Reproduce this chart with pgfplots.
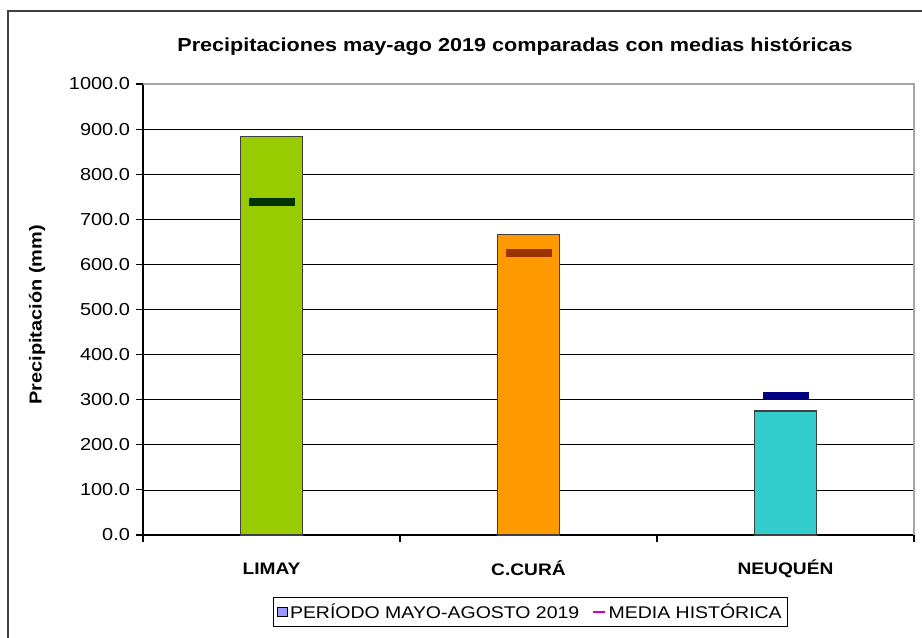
\documentclass[border=0pt]{standalone}
\usepackage{pgfplots}
\pgfplotsset{compat=1.18}
\usepackage{fontspec}
\setmainfont{Liberation Sans}[FakeStretch=1.15]
\definecolor{limay}{HTML}{99CC00}
\definecolor{limayd}{HTML}{003300}
\definecolor{cura}{HTML}{FF9900}
\definecolor{curad}{HTML}{993300}
\definecolor{neuq}{HTML}{33CCCC}
\definecolor{neuqd}{HTML}{000080}
\definecolor{legblue}{HTML}{9999FF}
\definecolor{legmag}{HTML}{CC00CC}
\definecolor{frame}{HTML}{404040}
\begin{document}
\begin{tikzpicture}
\path[use as bounding box] (0,0) rectangle (691.5pt,477.75pt);
\draw[frame, line width=1.5pt] (6pt,-10pt) rectangle (720pt,469.5pt);
\node[font=\fontsize{14.1}{16}\selectfont\bfseries] at (386.25pt,442.5pt) {Precipitaciones may-ago 2019 comparadas con medias históricas};
\begin{axis}[
  at={(107.25pt,76.5pt)}, anchor=south west,
  width=578.25pt, height=338.25pt, scale only axis,
  xmin=-0.5, xmax=2.5, ymin=0, ymax=1000,
  axis x line*=bottom, axis y line*=left,
  axis line style={black, line width=0.8pt},
  xtick={0,1,2}, xticklabels={LIMAY,C.CURÁ,NEUQUÉN},
  minor xtick={-0.5,0.5,1.5,2.5},
  major x tick style={draw=none},
  x tick label style={font=\fontsize{12.5}{14}\selectfont\bfseries, anchor=center, yshift=-20pt},
  ytick={0,100,...,1000},
  tick align=outside,
  major tick length=5.25pt, minor tick length=5.25pt,
  tick style={black, line width=0.8pt},
  ymajorgrids, grid style={black, line width=0.6pt},
  /pgf/number format/assume math mode=true,
  yticklabel style={/pgf/number format/fixed, /pgf/number format/fixed zerofill, /pgf/number format/precision=1, /pgf/number format/1000 sep={}, font=\fontsize{13}{15}\selectfont, xshift=-1pt},
  ylabel={Precipitación (mm)},
  ylabel style={at={(axis description cs:-0.1375,0.488)}, anchor=center, font=\fontsize{13}{15}\selectfont\bfseries},
  legend style={at={(axis description cs:0.503,-0.1707)}, anchor=center, draw=black, line width=0.8pt, font=\fontsize{12.7}{14}\selectfont, legend columns=2, inner sep=2.5pt, /tikz/every even column/.append style={column sep=7pt}},
  legend cell align=left,
]
\addplot[ybar, bar width=0.24, bar shift=0pt, fill=limay, draw=black!75, line width=0.8pt, forget plot] coordinates {(0,883)};
\addplot[ybar, bar width=0.24, bar shift=0pt, fill=cura, draw=black!75, line width=0.8pt, forget plot] coordinates {(1,667)};
\addplot[ybar, bar width=0.24, bar shift=0pt, fill=neuq, draw=black!75, line width=0.8pt, forget plot] coordinates {(2,275)};
\addplot[only marks, mark=-, mark size=17.25pt, mark options={line width=6pt, draw=limayd}, forget plot] coordinates {(0,738)};
\addplot[only marks, mark=-, mark size=17.25pt, mark options={line width=6pt, draw=curad}, forget plot] coordinates {(1,625)};
\addplot[only marks, mark=-, mark size=17.25pt, mark options={line width=6pt, draw=neuqd}, forget plot] coordinates {(2,309)};
\addlegendimage{legend image code/.code={\draw[fill=legblue, draw=black, line width=0.6pt] (0pt,-3.5pt) rectangle (7pt,3.5pt);}}
\addlegendentry{PERÍODO MAYO-AGOSTO 2019}
\addlegendimage{legend image code/.code={\draw[legmag, line width=2pt] (0pt,0pt) -- (9pt,0pt);}}
\addlegendentry{MEDIA HISTÓRICA}
\end{axis}
\draw[gray!70, line width=0.8pt] (107.25pt,414.75pt) -- (685.5pt,414.75pt) -- (685.5pt,76.5pt);
\end{tikzpicture}
\end{document}
